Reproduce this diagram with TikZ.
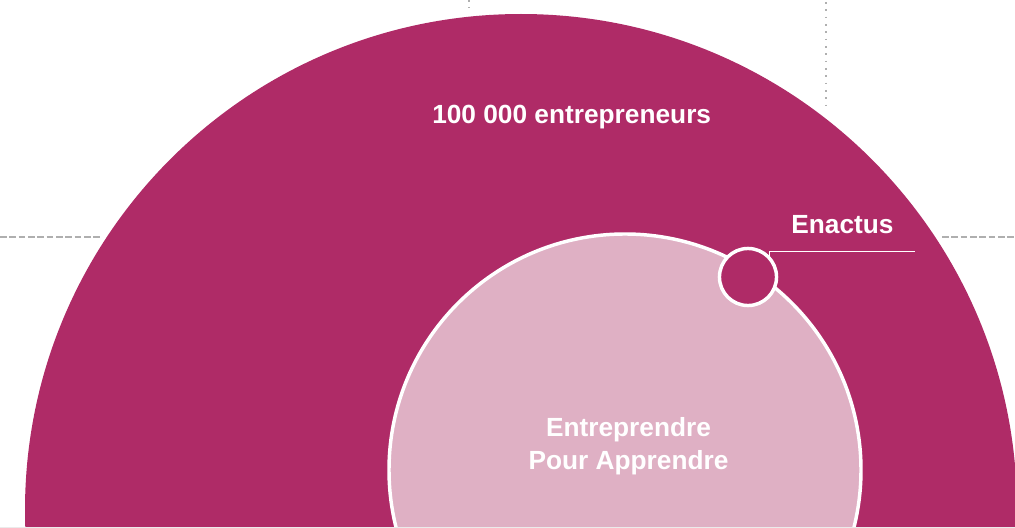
\documentclass[tikz,border=0pt]{standalone}
\usepackage{fontspec}
\setmainfont{Liberation Sans}
\definecolor{epmag}{RGB}{175,43,103}
\definecolor{eppink}{RGB}{223,176,196}
\definecolor{epgray}{RGB}{175,175,175}
\begin{document}
\begin{tikzpicture}[x=0.75pt,y=-0.75pt,
  lbl/.style={text=white,font=\bfseries\fontsize{19.7}{24.5}\selectfont,inner sep=0pt,anchor=base,align=center},
  dashline/.style={draw=epgray,line width=1.6pt,dash pattern=on 5pt off 2pt},
  dotline/.style={draw=epgray,line width=1.4pt,dash pattern=on 1.2pt off 4.3pt},
  ring/.style={draw=white,line width=2.6pt}]
\useasboundingbox (0,0) rectangle (1015,528);
\begin{scope}
\clip (0,0) rectangle (1015,528);
% guide lines
\draw[dashline] (0,237) -- (101,237);
\draw[dashline] (942,237) -- (1015,237);
\draw[dotline] (825.7,2) -- (825.7,108);
\draw[dotline] (469,0) -- (469,8);
% outer half disc
\fill[epmag] (521,510) circle[radius=372pt];
% inner disc
\filldraw[fill=eppink,ring] (625,470) circle[radius=177pt];
% page edge strip
\fill[black!8] (0,526.5) rectangle (1015,528);
\end{scope}
% Enactus small circle
\node[circle,fill=epmag,ring,minimum size=42.8pt,inner sep=0pt] (enactus) at (748,277) {};
\coordinate (lineend) at (915,251);
\draw[white,line width=0.75pt] (enactus.north east) |- (lineend);
% labels
\node[lbl] (big) at (571.7,123.3) {100 000 entrepreneurs};
\node[lbl] (enlbl) at (842.5,233.3) {Enactus};
\node[lbl] (epa) at (628.5,469.3) {Entreprendre\\Pour Apprendre};
\end{tikzpicture}
\end{document}
